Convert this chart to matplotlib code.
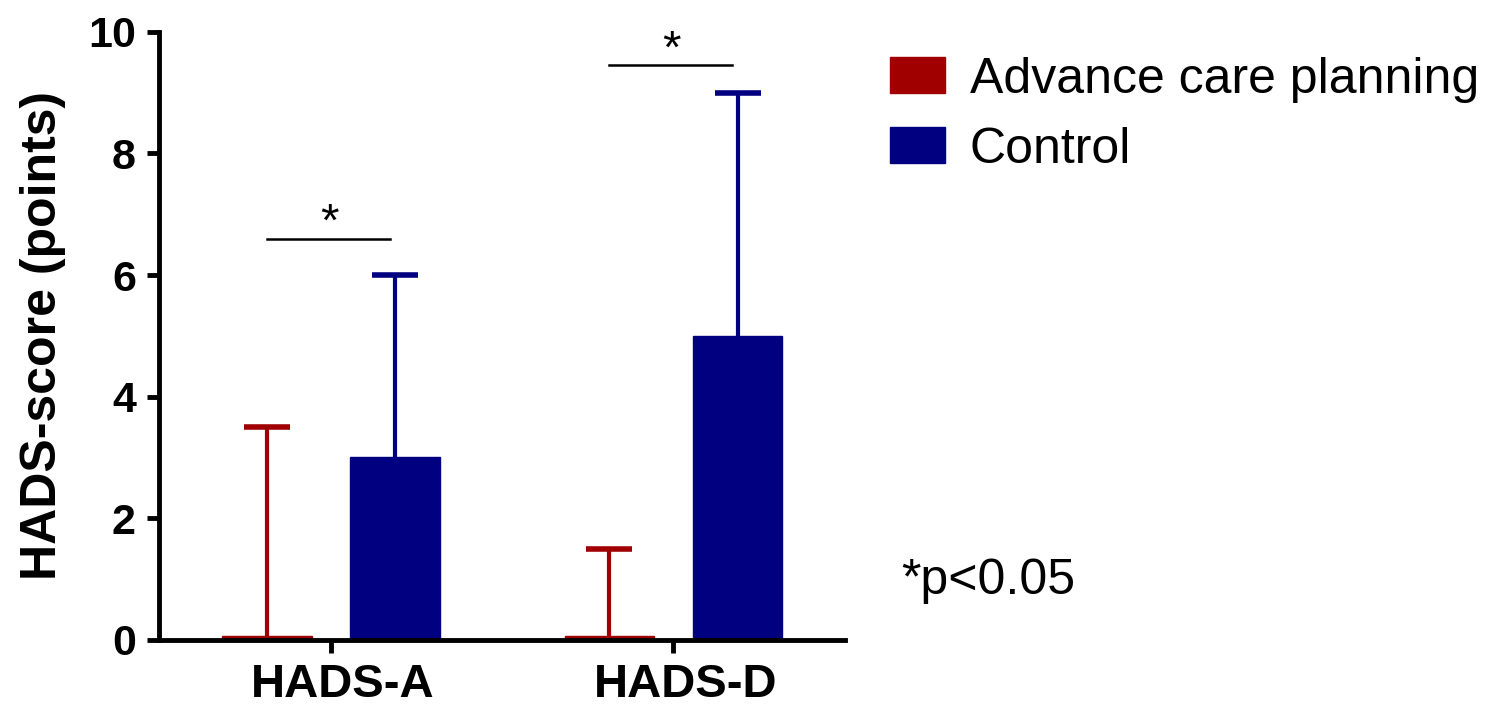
import matplotlib
matplotlib.use("Agg")
import matplotlib.pyplot as plt
import matplotlib.transforms as mtransforms
import numpy as np

# data
categories = ["HADS-A", "HADS-D"]
acp_values = [0.06, 0.06]
acp_upper = [3.5, 1.5]
control_values = [3.0, 5.0]
control_upper = [6.0, 9.0]
sig_heights = [6.6, 9.45]
sig_labels = ["*", "*"]

RED = "#a00000"
BLUE = "#000080"

plt.rcParams["font.family"] = ["Liberation Sans", "DejaVu Sans"]

fig = plt.figure(figsize=(14.9, 7.07), dpi=100)
ax = fig.add_axes([0.107, 0.095, 0.46, 0.86])

x = np.arange(len(categories))
offset = 0.187
width = 0.262


def upper_errorbar(xpos, vals, upper, color):
    vals = np.asarray(vals)
    err = np.asarray(upper) - vals
    cont = ax.errorbar(xpos, vals, yerr=[np.zeros_like(err), err], fmt="none",
                       ecolor=color, elinewidth=3, capsize=16.5, capthick=4,
                       zorder=1)
    # only keep the cap on top
    for cap in cont[1]:
        if np.allclose(cap.get_ydata(), vals):
            cap.set_visible(False)


ax.bar(x - offset, acp_values, width, color=RED, edgecolor=RED, linewidth=1,
       label="Advance care planning", zorder=2)
ax.bar(x + offset, control_values, width, color=BLUE, edgecolor=BLUE, linewidth=1,
       label="Control", zorder=2)
upper_errorbar(x - offset, acp_values, acp_upper, RED)
upper_errorbar(x + offset, control_values, control_upper, BLUE)

# significance brackets
for xi, h, lab in zip(x, sig_heights, sig_labels):
    ax.plot([xi - offset, xi + offset - 0.015], [h, h], color="black", lw=1.8,
            clip_on=False)
    ax.text(xi - 0.005, h - 0.12, lab, ha="center", va="bottom", fontsize=34)

ax.set_xlim(-0.5, 1.5)
ax.set_ylim(0, 10)
ax.set_yticks([0, 2, 4, 6, 8, 10])
ax.set_xticks(x)
ax.set_xticklabels(categories, fontsize=34, fontweight="bold")
for lab in ax.get_yticklabels():
    lab.set_fontsize(31)
    lab.set_fontweight("bold")
ax.set_ylabel("HADS-score (points)", fontsize=36, fontweight="bold", labelpad=16)

for side in ["top", "right"]:
    ax.spines[side].set_visible(False)
for side in ["left", "bottom"]:
    ax.spines[side].set_linewidth(3.5)
ax.tick_params(axis="both", width=3.5, length=9, pad=8)

# the category labels sit a little right of their ticks in the original
shift = mtransforms.ScaledTranslation(0.12, 0, fig.dpi_scale_trans)
for lab in ax.get_xticklabels():
    lab.set_transform(lab.get_transform() + shift)

fig.legend(loc="upper left", bbox_to_anchor=(0.597, 0.92), frameon=False,
           fontsize=36, handlelength=1.1, handleheight=0.74,
           handletextpad=0.5, labelspacing=0.48, borderpad=0, borderaxespad=0)

fig.text(0.605, 0.16, "*p<0.05", fontsize=36)

fig.savefig("out.png", dpi=100)
